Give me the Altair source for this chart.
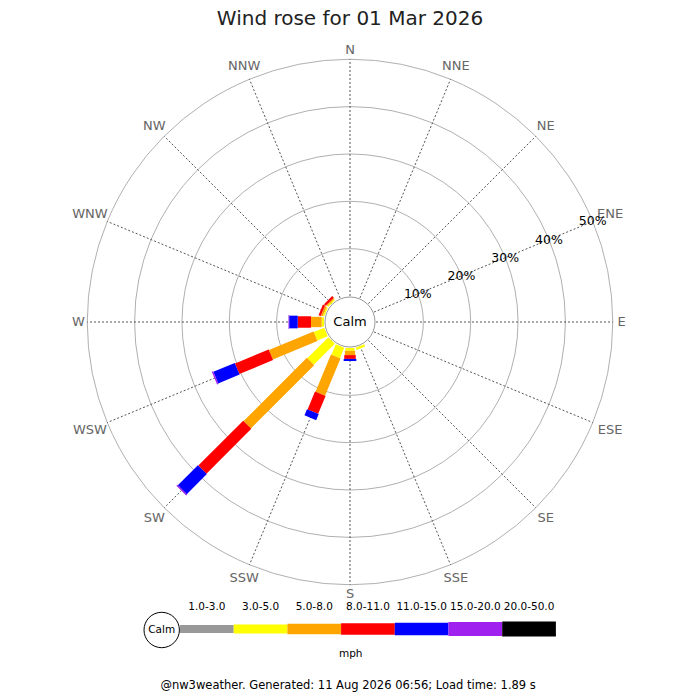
import math
import altair as alt
import pandas as pd

# ---------------- data ----------------
directions = ["N", "NNE", "NE", "ENE", "E", "ESE", "SE", "SSE",
              "S", "SSW", "SW", "WSW", "W", "WNW", "NW", "NNW"]
speed_bins = ["1.0-3.0", "3.0-5.0", "5.0-8.0", "8.0-11.0",
              "11.0-15.0", "15.0-20.0", "20.0-50.0"]
bin_colors = ["#999999", "#ffff00", "#ffa500", "#ff0000",
              "#0000ff", "#a020f0", "#000000"]
bin_widths = [8, 15, 20, 23, 25, 27, 29]

# percent of time per direction (N ... NNW) for each speed bin
pct_1_3 = [0, 0, 0, 0, 0, 0, 0, 0, 0, 0, 0, 0, 0, 0, 0, 0]
pct_3_5 = [0, 0, 0, 0, 0, 0, 0, 0.5, 0.6, 2.4, 6.3, 2.4, 0.5, 0.3, 0.3, 0]
pct_5_8 = [0, 0, 0, 0, 0, 0, 0, 0, 0.9, 8.5, 18.9, 10.2, 2.25, 0.4, 0.25, 0]
pct_8_11 = [0, 0, 0, 0, 0, 0, 0, 0, 0.8, 4.1, 13.4, 7.7, 2.8, 0.5, 0.5, 0]
pct_11_15 = [0, 0, 0, 0, 0, 0, 0, 0, 0.45, 1.4, 6.0, 4.9, 1.8, 0, 0, 0]
pct_15_20 = [0, 0, 0, 0, 0, 0, 0, 0, 0, 0, 0.3, 0.3, 0.15, 0, 0, 0]
pct_20_50 = [0, 0, 0, 0, 0, 0, 0, 0, 0, 0, 0, 0, 0, 0, 0, 0]
series = [pct_1_3, pct_3_5, pct_5_8, pct_8_11, pct_11_15, pct_15_20, pct_20_50]

ring_pcts = [10, 20, 30, 40, 50]
title_text = "Wind rose for 01 Mar 2026"
footer_text = "@nw3weather. Generated: 11 Aug 2026 06:56; Load time: 1.89 s"
unit_text = "mph"

# ---------------- geometry ----------------
W, H = 684, 684
CX, CY = 342, 314          # rose centre in chart pixels
PX = 4.735                 # pixels per percent
R0 = 26 / PX               # 0 % radius (edge of calm circle)
FONT = "DejaVu Sans"
U = CX / PX                # half-width in percent units

xs = alt.Scale(domain=[-CX / PX, (W - CX) / PX], nice=False, zero=False)
ys = alt.Scale(domain=[-(H - CY) / PX, CY / PX], nice=False, zero=False)
# symbol size is the square of its diameter -> pow(2) scale keeps radius linear
ring_size = alt.Scale(type="pow", exponent=2, domain=[0, U], range=[0, (2 * CX) ** 2], zero=True)
col_scale = alt.Scale(domain=speed_bins, range=bin_colors)
sw_scale = alt.Scale(domain=speed_bins, range=bin_widths)

# ---------------- tables ----------------
rows = []
for i, d in enumerate(directions):
    cum = 0.0
    for b, vals in enumerate(series):
        v = vals[i]
        if v > 0:
            rows.append(dict(dir=d, angle=i * 22.5, bin=speed_bins[b], order=b * 100 + i,
                             start=cum, end=cum + v))
        cum += v
legs_df = pd.DataFrame(rows).sort_values("order")
dir_df = pd.DataFrame({"label": directions, "angle": [i * 22.5 for i in range(16)]})
ring_df = pd.DataFrame({"pct": ring_pcts})
leg_df = pd.DataFrame({"bin": speed_bins, "idx": list(range(len(speed_bins)))})

X = lambda f: alt.X(f, scale=xs, axis=None)
Y = lambda f: alt.Y(f, scale=ys, axis=None)

rings = alt.Chart(ring_df).transform_calculate(
    r=f"{R0} + datum.pct", cx="0", cy="0"
).mark_point(shape="circle", filled=False, stroke="#b0b0b0", strokeWidth=1, opacity=1).encode(
    x=X("cx:Q"), y=Y("cy:Q"), size=alt.Size("r:Q", scale=ring_size, legend=None)
)

spokes = alt.Chart(dir_df).transform_calculate(
    a="datum.angle*PI/180",
    x=f"{R0}*sin(datum.a)", y=f"{R0}*cos(datum.a)",
    x2=f"{R0 + 50}*sin(datum.a)", y2=f"{R0 + 50}*cos(datum.a)",
).mark_rule(color="#555555", strokeWidth=1, strokeDash=[2, 2]).encode(
    x=X("x:Q"), y=Y("y:Q"), x2="x2:Q", y2="y2:Q"
)

legs = alt.Chart(legs_df).transform_calculate(
    a="datum.angle*PI/180",
    r0=f"{R0} + datum.start", r1=f"{R0} + datum.end",
    x="datum.r0*sin(datum.a)", y="datum.r0*cos(datum.a)",
    x2="datum.r1*sin(datum.a)", y2="datum.r1*cos(datum.a)",
).mark_rule(strokeCap="butt").encode(
    x=X("x:Q"), y=Y("y:Q"), x2="x2:Q", y2="y2:Q",
    color=alt.Color("bin:N", scale=col_scale, legend=None),
    strokeWidth=alt.StrokeWidth("bin:O", scale=sw_scale, legend=None),
    order="order:Q",
)

center_df = pd.DataFrame({"label": ["Calm"], "cx": [0.0], "cy": [0.0]})
calm_circle = alt.Chart(center_df).mark_arc(
    fill="white", stroke="#999999", strokeWidth=1, theta=0, theta2=2 * math.pi
).encode(x=X("cx:Q"), y=Y("cy:Q"), radius=alt.value(25))
calm_text = alt.Chart(center_df).mark_text(font=FONT, fontSize=13, color="black").encode(
    x=X("cx:Q"), y=Y("cy:Q"), text="label:N"
)

dir_labels = alt.Chart(dir_df).transform_calculate(
    a="datum.angle*PI/180",
    rp="267 + length(datum.label)*4.6*abs(sin(datum.a)) + 4.75*abs(cos(datum.a))",
    x=f"datum.rp/{PX}*sin(datum.a)", y=f"datum.rp/{PX}*cos(datum.a)",
).mark_text(font=FONT, fontSize=13, color="#666666").encode(
    x=X("x:Q"), y=Y("y:Q"), text="label:N"
)

pct_labels = alt.Chart(ring_df).transform_calculate(
    a="67.5*PI/180",
    r=f"{R0} + datum.pct",
    x="datum.r*sin(datum.a)", y="datum.r*cos(datum.a)",
    t="datum.pct + '%'",
).mark_text(font=FONT, fontSize=12.5, color="black").encode(
    x=X("x:Q"), y=Y("y:Q"), text="t:N"
)

# ---------------- legend ----------------
LX0 = (180 - 350) / PX
LSTEP = 53.7 / PX
LY = (322 - 629) / PX
LTY = (322 - 606.7) / PX

leg_bars = alt.Chart(leg_df).transform_calculate(
    x=f"{LX0} + datum.idx*{LSTEP}", x2=f"{LX0} + (datum.idx+1)*{LSTEP}", y=f"{LY}"
).mark_rule(strokeCap="butt").encode(
    x=X("x:Q"), x2="x2:Q", y=Y("y:Q"),
    color=alt.Color("bin:N", scale=col_scale, legend=None),
    strokeWidth=alt.StrokeWidth("bin:O", scale=sw_scale, legend=None),
)
leg_text = alt.Chart(leg_df).transform_calculate(
    x=f"{LX0} + (datum.idx+0.5)*{LSTEP}", y=f"{LTY}"
).mark_text(font=FONT, fontSize=10.5, color="black").encode(
    x=X("x:Q"), y=Y("y:Q"), text="bin:N"
)
leg_calm_df = pd.DataFrame({"label": ["Calm"], "cx": [(161.7 - 350) / PX], "cy": [(322 - 630) / PX]})
leg_calm = alt.Chart(leg_calm_df).mark_arc(
    fill="white", stroke="black", strokeWidth=1, theta=0, theta2=2 * math.pi
).encode(x=X("cx:Q"), y=Y("cy:Q"), radius=alt.value(17.7))
leg_calm_text = alt.Chart(leg_calm_df).mark_text(font=FONT, fontSize=10.5, color="black").encode(
    x=X("cx:Q"), y=Y("cy:Q"), text="label:N"
)

misc_df = pd.DataFrame({
    "label": [unit_text, title_text, footer_text],
    "cx": [0.15, 0.0, -0.4],
    "cy": [(322 - 654) / PX, (322 - 19) / PX, (322 - 686) / PX],
    "size": [10.5, 20, 11.5],
    "col": ["black", "#222222", "black"],
})
misc = alt.Chart(misc_df).mark_text(font=FONT).encode(
    x=X("cx:Q"), y=Y("cy:Q"), text="label:N",
    size=alt.Size("size:Q", scale=None, legend=None),
    color=alt.Color("col:N", scale=None, legend=None),
)

chart = alt.layer(
    rings, spokes, legs, calm_circle, calm_text, dir_labels, pct_labels,
    leg_bars, leg_calm, leg_calm_text, leg_text, misc
).resolve_scale(color="independent", strokeWidth="independent", size="independent").properties(
    width=W, height=H, padding=0, autosize=alt.AutoSizeParams(type="none")
).configure_view(strokeWidth=0)

chart.save("out.html", embed_options={"renderer": "svg", "actions": False})
